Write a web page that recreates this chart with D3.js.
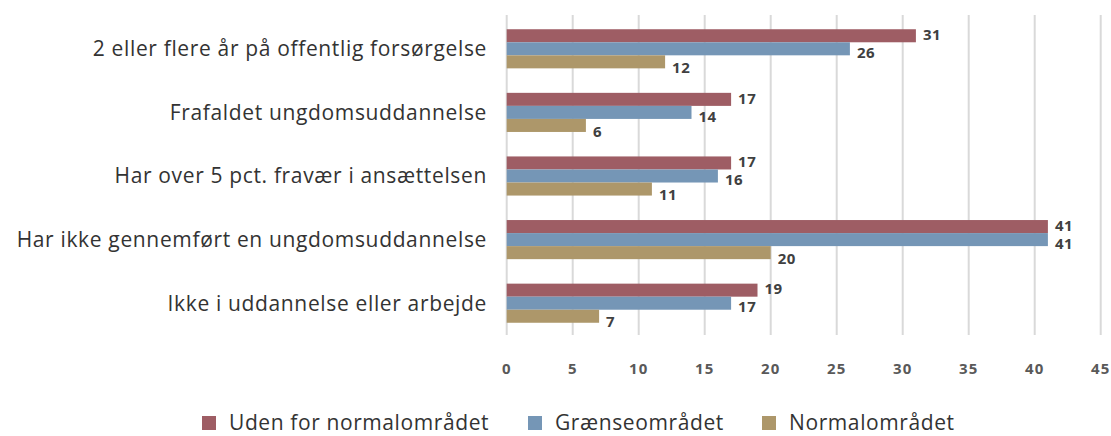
<!DOCTYPE html>
<html>
<head>
<meta charset="utf-8">
<script src="https://cdn.jsdelivr.net/npm/d3@7"></script>
<style>
  body { margin: 0; background: #fff; }
  svg text { font-family: "Open Sans", "Noto Sans", sans-serif; }
</style>
</head>
<body>
<script>
let width = 1111;
let height = 436;

// data
let categories = [
  "2 eller flere år på offentlig forsørgelse",
  "Frafaldet ungdomsuddannelse",
  "Har over 5 pct. fravær i ansættelsen",
  "Har ikke gennemført en ungdomsuddannelse",
  "Ikke i uddannelse eller arbejde"
];
let seriesNames = ["Uden for normalområdet", "Grænseområdet", "Normalområdet"];
let udenFor = [31, 17, 17, 41, 19];
let graense = [26, 14, 16, 41, 17];
let normal = [12, 6, 11, 20, 7];
let ticks = [0, 5, 10, 15, 20, 25, 30, 35, 40, 45];
let colors = ["#9e5d64", "#7596b6", "#ad976a"];

let seriesValues = [udenFor, graense, normal];
// label nudges like excel places them
let labelShift = [-1, 4, 6];

let svg = d3
  .select("body")
  .append("svg")
  .attr("width", width)
  .attr("height", height);

let x = d3.scaleLinear().domain([0, 45]).range([506.7, 1100.7]);
let y = d3
  .scaleBand()
  .domain(categories)
  .range([17, 335])
  .paddingInner(0.385)
  .paddingOuter(0.1925);
let ySub = d3
  .scaleBand()
  .domain(seriesNames)
  .range([0, y.bandwidth()]);

// gridlines
svg
  .append("g")
  .selectAll("line")
  .data(ticks)
  .enter()
  .append("line")
  .attr("x1", (d) => x(d))
  .attr("x2", (d) => x(d))
  .attr("y1", 15)
  .attr("y2", 335)
  .attr("stroke", "#d9d9d9")
  .attr("stroke-width", 2);

// tick labels
svg
  .append("g")
  .selectAll("text")
  .data(ticks)
  .enter()
  .append("text")
  .attr("x", (d) => x(d))
  .attr("y", 374)
  .attr("text-anchor", "middle")
  .attr("fill", "#595959")
  .style("font-size", "15px")
  .style("font-weight", "bold")
  .style("letter-spacing", "1px")
  .text((d) => d);

// category labels
svg
  .append("g")
  .selectAll("text")
  .data(categories)
  .enter()
  .append("text")
  .attr("x", 487)
  .attr("y", (d) => y(d) + y.bandwidth() / 2)
  .attr("dy", "0.35em")
  .attr("text-anchor", "end")
  .attr("fill", "#333")
  .style("font-size", "21px")
  .style("letter-spacing", "0.65px")
  .text((d) => d);

// bars
seriesNames.forEach((name, si) => {
  let g = svg.append("g");
  let rows = categories.map((c, i) => ({ c: c, v: seriesValues[si][i] }));
  g.selectAll("rect")
    .data(rows)
    .enter()
    .append("rect")
    .attr("x", x(0))
    .attr("y", (d) => y(d.c) + ySub(name))
    .attr("width", (d) => x(d.v) - x(0))
    .attr("height", ySub.bandwidth())
    .attr("fill", colors[si]);

  g.selectAll("text")
    .data(rows)
    .enter()
    .append("text")
    .attr("x", (d) => x(d.v) + 7)
    .attr("y", (d) => y(d.c) + ySub(name) + ySub.bandwidth() / 2 + labelShift[si])
    .attr("dy", "0.35em")
    .attr("fill", "#404040")
    .style("font-size", "15px")
    .style("font-weight", "bold")
    .style("letter-spacing", "0.5px")
    .text((d) => d.v);
});

// legend
let legendX = [202, 528, 762];
let legend = svg
  .append("g")
  .selectAll("g")
  .data(seriesNames)
  .enter()
  .append("g")
  .attr("transform", (d, i) => `translate(${legendX[i]},423)`);

legend
  .append("rect")
  .attr("x", 0)
  .attr("y", -7)
  .attr("width", 14)
  .attr("height", 14)
  .attr("fill", (d, i) => colors[i]);

legend
  .append("text")
  .attr("x", 27)
  .attr("y", 0)
  .attr("dy", "0.35em")
  .attr("fill", "#333")
  .style("font-size", "21px")
  .style("letter-spacing", "0.6px")
  .text((d) => d);
</script>
</body>
</html>
